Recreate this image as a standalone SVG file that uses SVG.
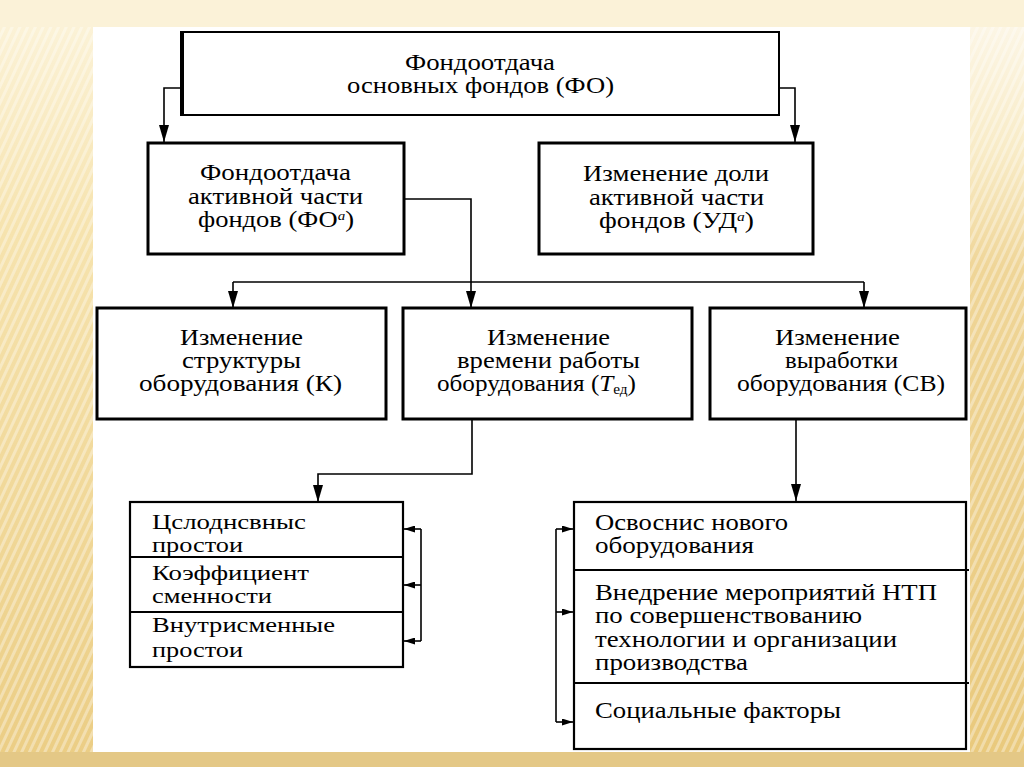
<svg xmlns="http://www.w3.org/2000/svg" width="1024" height="767" viewBox="0 0 1024 767">
<style>
.box{fill:#fff;stroke:#000;stroke-width:2.5}
.div{stroke:#000;stroke-width:2.2;fill:none}
.con{fill:none;stroke:#000;stroke-width:1.6}
.t{font-family:"Liberation Serif","Times New Roman","DejaVu Serif",serif;font-size:23px;fill:#000}
.s{font-size:22px}
.c{text-anchor:middle}
</style>
<defs>
<linearGradient id="side" x1="0" y1="0" x2="0" y2="1">
<stop offset="0" stop-color="#fcf4dc"/>
<stop offset="0.3" stop-color="#f6e3ae"/>
<stop offset="1" stop-color="#ebcd84"/>
</linearGradient>
<linearGradient id="rside" x1="0" y1="0" x2="0" y2="1">
<stop offset="0" stop-color="#fdf8ec"/>
<stop offset="0.2" stop-color="#f8ebc6"/>
<stop offset="0.35" stop-color="#efd597"/>
<stop offset="1" stop-color="#e9c97c"/>
</linearGradient>
<pattern id="stripes" width="7" height="7" patternUnits="userSpaceOnUse" patternTransform="rotate(25)">
<rect width="3" height="7" fill="#ffffff" opacity="0.35"/>
</pattern>
<marker id="ad" markerWidth="17" markerHeight="10" refX="17" refY="5" orient="auto" markerUnits="userSpaceOnUse">
<path d="M0,0 L17,5 L0,10 z" fill="#000"/>
</marker>
<marker id="as" markerWidth="11" markerHeight="7" refX="11" refY="3.5" orient="auto" markerUnits="userSpaceOnUse">
<path d="M0,0 L11,3.5 L0,7 z" fill="#000"/>
</marker>
</defs>

<!-- background -->
<rect x="0" y="0" width="1024" height="767" fill="#f4e2b0"/>
<rect x="0" y="0" width="93" height="767" fill="url(#side)"/>
<rect x="970" y="0" width="54" height="767" fill="url(#rside)"/>
<rect x="0" y="0" width="93" height="767" fill="url(#stripes)"/>
<rect x="970" y="0" width="54" height="767" fill="url(#stripes)"/>
<rect x="0" y="0" width="1024" height="27" fill="#fbf2d8"/>
<rect x="0" y="752" width="1024" height="15" fill="#e4c886"/>
<rect x="93" y="27" width="877" height="725" fill="#fff"/>

<g id="connectors">
<path class="con" d="M181,88 H164 V142" marker-end="url(#ad)"/>
<path class="con" d="M779,88 H795 V142" marker-end="url(#ad)"/>
<path class="con" d="M404,199 H471 V308" marker-end="url(#ad)"/>
<path class="con" d="M233,282 H864"/>
<path class="con" d="M233,282 V308" marker-end="url(#ad)"/>
<path class="con" d="M864,282 V308" marker-end="url(#ad)"/>
<path class="con" d="M472,419 V474 H318 V502" marker-end="url(#ad)"/>
<path class="con" d="M796,419 V501" marker-end="url(#ad)"/>
<path class="con" d="M421,529 V641"/>
<path class="con" d="M421,529 H404" marker-end="url(#as)"/>
<path class="con" d="M421,585 H404" marker-end="url(#as)"/>
<path class="con" d="M421,641 H404" marker-end="url(#as)"/>
<path class="con" d="M556,529 V722"/>
<path class="con" d="M556,529 H573" marker-end="url(#as)"/>
<path class="con" d="M556,612 H573" marker-end="url(#as)"/>
<path class="con" d="M556,722 H573" marker-end="url(#as)"/>
</g>

<g id="node-fo">
<rect class="box" x="181" y="32" width="598" height="83" style="stroke-width:2"/>
<line x1="182" y1="31" x2="182" y2="116" stroke="#000" stroke-width="4"/>
<text class="t c" x="480" y="70" textLength="150" lengthAdjust="spacingAndGlyphs">Фондоотдача</text>
<text class="t c" x="480.5" y="93" textLength="267" lengthAdjust="spacingAndGlyphs">основных фондов (ФО)</text>
</g>

<g id="node-foa">
<rect class="box" x="148" y="143" width="256" height="111" style="stroke-width:3"/>
<text class="t c" x="275.5" y="180" textLength="151" lengthAdjust="spacingAndGlyphs">Фондоотдача</text>
<text class="t c" x="275.5" y="204" textLength="175" lengthAdjust="spacingAndGlyphs">активной части</text>
<text class="t c" x="276" y="227" textLength="156" lengthAdjust="spacingAndGlyphs">фондов (ФО<tspan font-style="italic" font-size="13" dy="-7">а</tspan><tspan dy="7">)</tspan></text>
</g>

<g id="node-uda">
<rect class="box" x="539" y="143" width="274" height="111" style="stroke-width:3"/>
<text class="t c" x="676" y="181" textLength="186" lengthAdjust="spacingAndGlyphs">Изменение доли</text>
<text class="t c" x="676.5" y="205" textLength="175" lengthAdjust="spacingAndGlyphs">активной части</text>
<text class="t c" x="676.5" y="228" textLength="155" lengthAdjust="spacingAndGlyphs">фондов (УД<tspan font-style="italic" font-size="13" dy="-7">а</tspan><tspan dy="7">)</tspan></text>
</g>

<g id="node-k">
<rect class="box" x="97" y="308" width="289" height="111" style="stroke-width:3"/>
<text class="t c" x="241.5" y="345" textLength="123" lengthAdjust="spacingAndGlyphs">Изменение</text>
<text class="t c" x="241.5" y="368" textLength="119" lengthAdjust="spacingAndGlyphs">структуры</text>
<text class="t c" x="240.5" y="391" textLength="203" lengthAdjust="spacingAndGlyphs">оборудования (К)</text>
</g>

<g id="node-t">
<rect class="box" x="403" y="308" width="289" height="111" style="stroke-width:3"/>
<text class="t c" x="548.5" y="345" textLength="123" lengthAdjust="spacingAndGlyphs">Изменение</text>
<text class="t c" x="548.5" y="368" textLength="183" lengthAdjust="spacingAndGlyphs">времени работы</text>
<text class="t c" x="536.5" y="391" textLength="199" lengthAdjust="spacingAndGlyphs">оборудования (<tspan font-style="italic">T</tspan><tspan font-size="14" dy="3">ед</tspan><tspan dy="-3">)</tspan></text>
</g>

<g id="node-cb">
<rect class="box" x="710" y="308" width="256" height="111" style="stroke-width:3"/>
<text class="t c" x="837.5" y="345" textLength="125" lengthAdjust="spacingAndGlyphs">Изменение</text>
<text class="t c" x="841.5" y="368" textLength="113" lengthAdjust="spacingAndGlyphs">выработки</text>
<text class="t c" x="841" y="391" textLength="208" lengthAdjust="spacingAndGlyphs">оборудования (СВ)</text>
</g>

<g id="node-time-list">
<rect class="box" x="130" y="502" width="273" height="165" style="stroke-width:2.2"/>
<line class="div" x1="130" y1="557" x2="403" y2="557"/>
<line class="div" x1="130" y1="612" x2="403" y2="612"/>
<text class="t s" x="152" y="529" textLength="154" lengthAdjust="spacingAndGlyphs">Цслоднсвныс</text>
<text class="t s" x="152" y="552" textLength="91" lengthAdjust="spacingAndGlyphs">простои</text>
<text class="t s" x="152" y="580" textLength="157" lengthAdjust="spacingAndGlyphs">Коэффициент</text>
<text class="t s" x="152" y="603" textLength="120" lengthAdjust="spacingAndGlyphs">сменности</text>
<text class="t s" x="152" y="632" textLength="183" lengthAdjust="spacingAndGlyphs">Внутрисменные</text>
<text class="t s" x="152" y="657" textLength="91" lengthAdjust="spacingAndGlyphs">простои</text>
</g>

<g id="node-output-list">
<rect class="box" x="574" y="502" width="392" height="247" style="stroke-width:2.2"/>
<line class="div" x1="574" y1="570" x2="969" y2="570"/>
<line class="div" x1="574" y1="683" x2="969" y2="683"/>
<text class="t" x="595" y="530" textLength="193" lengthAdjust="spacingAndGlyphs">Освоснис нового</text>
<text class="t" x="595" y="553" textLength="159" lengthAdjust="spacingAndGlyphs">оборудования</text>
<text class="t" x="595" y="600" textLength="342" lengthAdjust="spacingAndGlyphs">Внедрение мероприятий НТП</text>
<text class="t" x="595" y="623" textLength="267" lengthAdjust="spacingAndGlyphs">по совершенствованию</text>
<text class="t" x="595" y="647" textLength="302" lengthAdjust="spacingAndGlyphs">технологии и организации</text>
<text class="t" x="595" y="670" textLength="153" lengthAdjust="spacingAndGlyphs">производства</text>
<text class="t" x="595" y="718" textLength="246" lengthAdjust="spacingAndGlyphs">Социальные факторы</text>
</g>
</svg>
